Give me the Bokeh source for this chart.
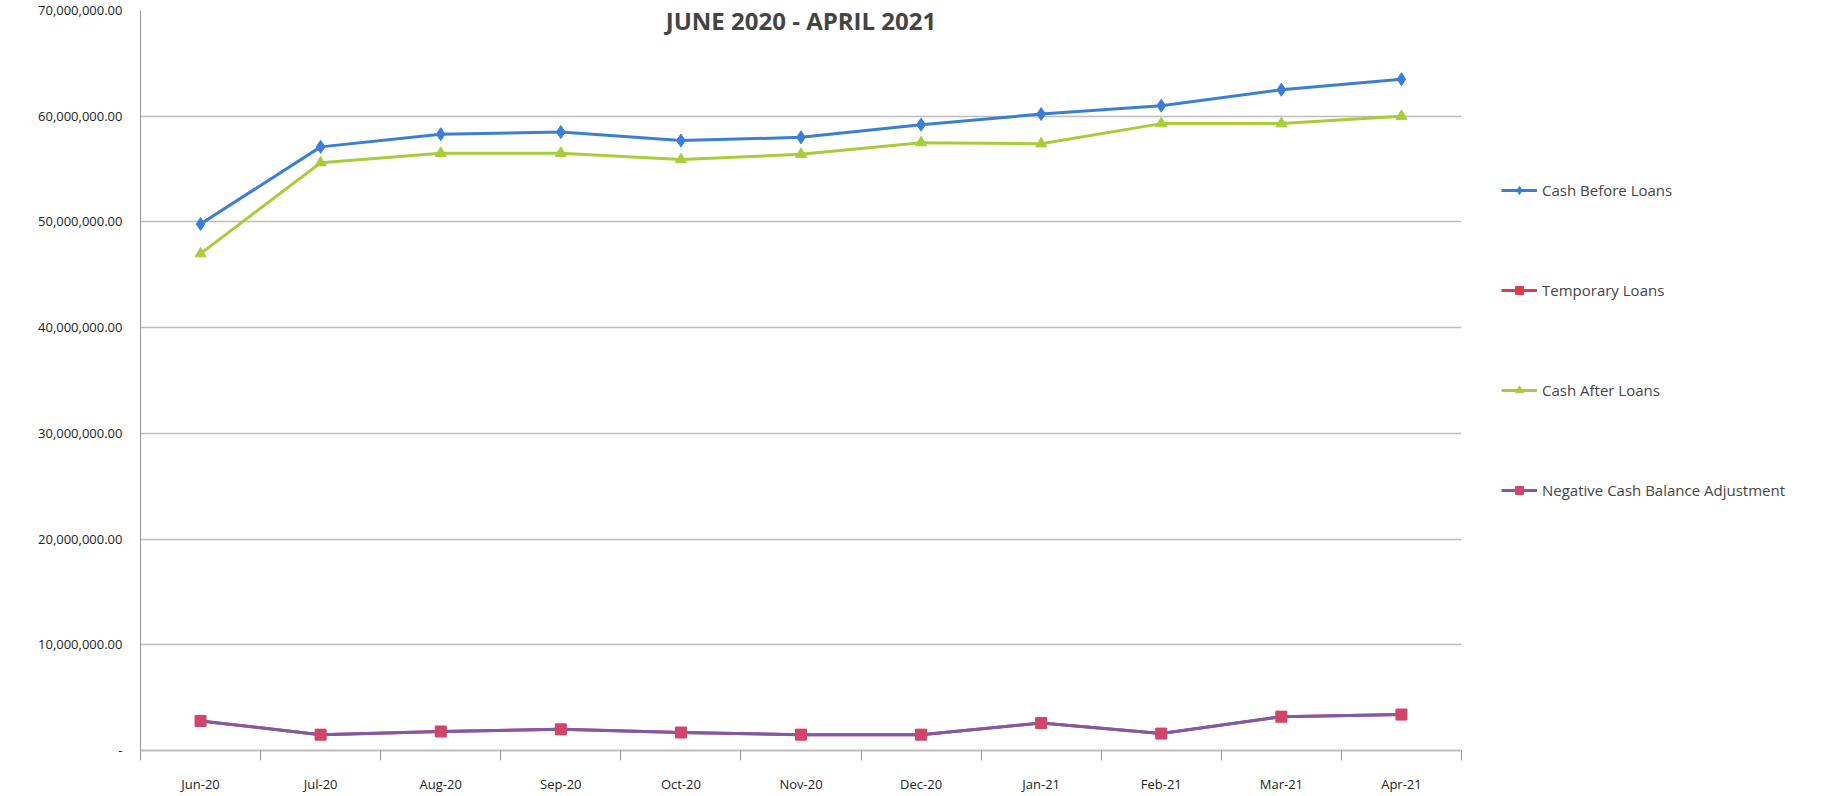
from bokeh.plotting import figure
from bokeh.models import FixedTicker, CustomJSTickFormatter, Legend, LegendItem, Label, Range1d
from bokeh.embed import file_html
from bokeh.resources import INLINE

months = ["Jun-20","Jul-20","Aug-20","Sep-20","Oct-20","Nov-20","Dec-20","Jan-21","Feb-21","Mar-21","Apr-21"]
cash_before = [49.8,57.1,58.3,58.5,57.7,58.0,59.2,60.2,61.0,62.5,63.5]
cash_after = [47.0,55.6,56.5,56.5,55.9,56.4,57.5,57.4,59.3,59.3,60.0]
temp_loans = [2.8,1.5,1.8,2.0,1.7,1.5,1.5,2.6,1.6,3.2,3.4]
neg_adj = [2.8,1.5,1.8,2.0,1.7,1.5,1.5,2.6,1.6,3.2,3.4]
M = 1e6
x = list(range(len(months)))

p = figure(frame_width=1321, frame_height=740, output_backend="svg", toolbar_location=None,
           x_range=Range1d(-0.5, len(months)-0.5), y_range=Range1d(0, 70*M),
           min_border_left=140, min_border_top=10, min_border_bottom=30, min_border_right=10)
p.outline_line_color = None
p.xgrid.grid_line_color = None
p.ygrid.grid_line_color = "#bdbdbd"
p.ygrid.grid_line_width = 1.5
p.yaxis.ticker = FixedTicker(ticks=[i*10*M for i in range(8)])
p.yaxis.formatter = CustomJSTickFormatter(code="""
if (tick == 0) return '-';
return tick.toLocaleString('en-US', {minimumFractionDigits: 2, maximumFractionDigits: 2});
""")
p.yaxis.major_tick_line_color = None
p.yaxis.minor_tick_line_color = None
p.yaxis.axis_line_color = "#999999"
p.yaxis.major_label_standoff = 12
p.xaxis.ticker = FixedTicker(ticks=x, minor_ticks=[i-0.5 for i in range(len(months)+1)])
p.xaxis.major_label_overrides = {i: m for i, m in enumerate(months)}
p.xaxis.major_tick_line_color = None
p.xaxis.minor_tick_out = 10
p.xaxis.minor_tick_in = 0
p.xaxis.minor_tick_line_color = "#999999"
p.xaxis.axis_line_color = "#bdbdbd"
p.xaxis.axis_line_width = 2
p.xaxis.major_label_standoff = 14
for ax in (p.xaxis, p.yaxis):
    ax.major_label_text_font = "Open Sans"
    ax.major_label_text_font_size = "13px"
    ax.major_label_text_color = "#222222"

yb = [v*M for v in cash_before]; ya = [v*M for v in cash_after]
yt = [v*M for v in temp_loans]; yn = [v*M for v in neg_adj]
l1 = p.line(x, yb, line_color="#3a7fd5", line_width=3)
m1 = p.scatter(x, yb, marker="diamond", size=13, color="#3a7fd5")
l2 = p.line(x, yt, line_color="#d9404a", line_width=3)
m2 = p.scatter(x, yt, marker="square", size=10, color="#d9404a")
l3 = p.line(x, ya, line_color="#a8cc3a", line_width=3)
m3 = p.scatter(x, ya, marker="triangle", size=11, color="#a8cc3a")
l4 = p.line(x, yn, line_color="#7f5aa6", line_width=3)
m4 = p.scatter(x, yn, marker="square", size=11, color="#d2456a")

legend = Legend(items=[
    LegendItem(label="Cash Before Loans", renderers=[l1, m1]),
    LegendItem(label="Temporary Loans", renderers=[l2, m2]),
    LegendItem(label="Cash After Loans", renderers=[l3, m3]),
    LegendItem(label="Negative Cash Balance Adjustment", renderers=[l4, m4]),
], location=(40, 250), spacing=80, border_line_color=None, label_text_font="Open Sans",
   label_text_font_size="15px", glyph_width=36, background_fill_alpha=0)
p.add_layout(legend, "right")

p.add_layout(Label(x=0.5*(-0.5+len(months)-0.5), y=70*M, y_offset=-10, text="JUNE 2020 - APRIL 2021",
                   text_font="Open Sans", text_font_style="bold", text_font_size="24px",
                   text_align="center", text_baseline="middle"))

open("out.html", "w").write(file_html(p, INLINE))
